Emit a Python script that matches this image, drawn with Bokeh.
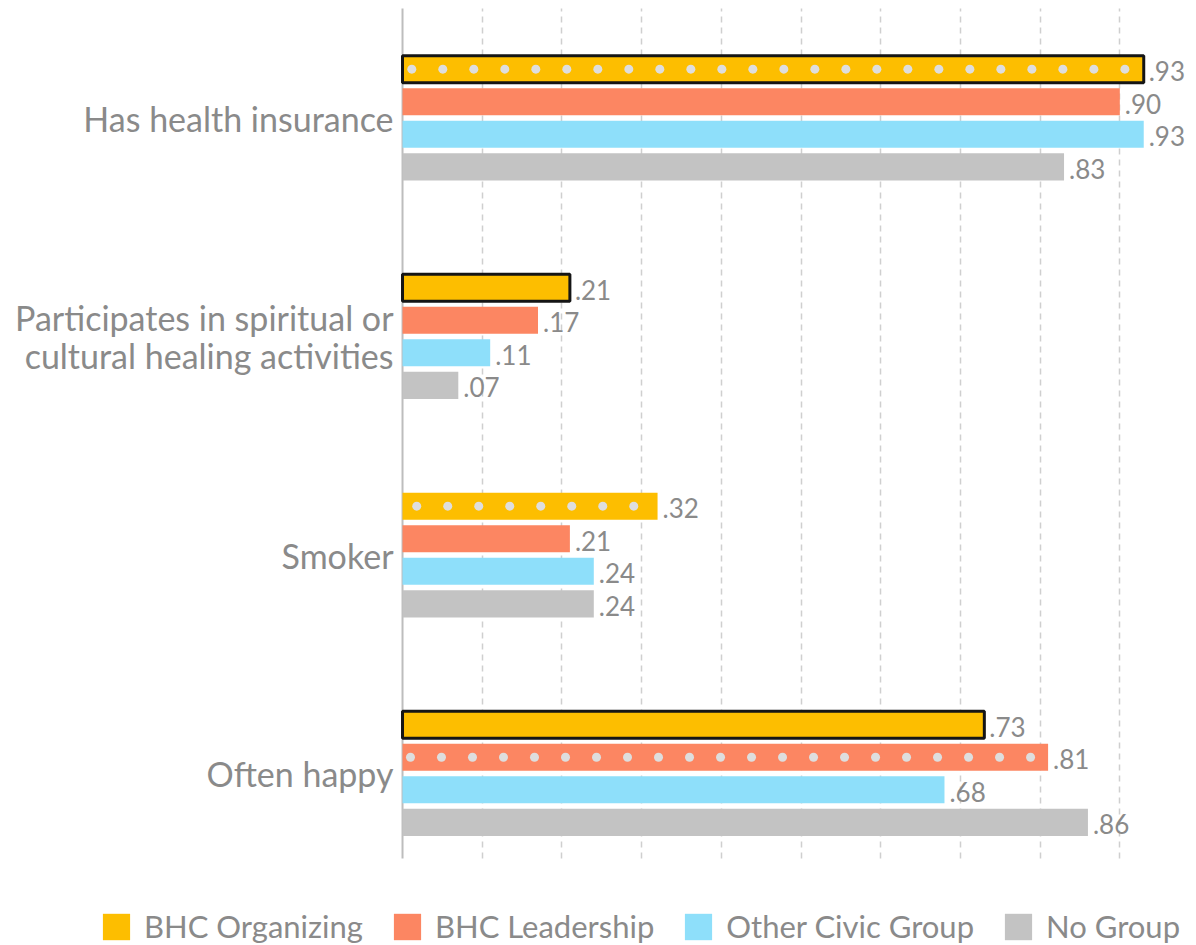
import numpy as np
from bokeh.plotting import figure
from bokeh.models import Range1d, FixedTicker, Legend, LegendItem, ColumnDataSource, Grid
from bokeh.core.properties import value
from bokeh.embed import file_html
from bokeh.resources import INLINE

# ---- data ----
categories = ["Has health insurance",
              "Participates in spiritual or\ncultural healing activities",
              "Smoker",
              "Often happy"]
series_names = ["BHC Organizing", "BHC Leadership", "Other Civic Group", "No Group"]
bhc_organizing = [0.93, 0.21, 0.32, 0.73]
bhc_leadership = [0.90, 0.17, 0.21, 0.81]
other_civic_group = [0.93, 0.11, 0.24, 0.68]
no_group = [0.83, 0.07, 0.24, 0.86]
# highlight flags (black outline / dotted fill) per series, per category
outlined_organizing = [True, True, False, True]
dotted_organizing = [True, False, True, False]
dotted_leadership = [False, False, False, True]
grid_ticks = [0.1, 0.2, 0.3, 0.4, 0.5, 0.6, 0.7, 0.8, 0.9]

series_values = [bhc_organizing, bhc_leadership, other_civic_group, no_group]
series_colors = ["#FDBE00", "#FC8662", "#8EDFFA", "#C3C3C3"]
series_outlined = [outlined_organizing, [False] * 4, [False] * 4, [False] * 4]
series_dotted = [dotted_organizing, dotted_leadership, [False] * 4, [False] * 4]

TEXT_COLOR = "#8a8a8a"
FONT = "Lato"

# vertical layout (one group per unit)
Y_TOP = -0.5378
Y_BOTTOM = 3.7871
LINE_TOP = -0.5012
LINE_BOTTOM = 3.389

p = figure(width=1196, height=945,
           x_range=Range1d(-0.5044, 0.9962), y_range=Range1d(Y_BOTTOM, Y_TOP),
           x_axis_location=None, y_axis_location=None,
           toolbar_location=None, output_backend="svg",
           min_border_left=0, min_border_right=0, min_border_top=0, min_border_bottom=0,
           outline_line_color=None, background_fill_color="white")

p.ygrid.visible = False
p.xgrid.visible = False
if "cross_bounds" in Grid.properties():
    g = Grid(dimension=0, ticker=FixedTicker(ticks=grid_ticks),
             grid_line_color="#cfcfcf", grid_line_width=1.5, grid_line_dash="6 5",
             cross_bounds=(LINE_BOTTOM, LINE_TOP))
    p.add_layout(g, "center")
else:
    p.segment(x0=grid_ticks, y0=[LINE_BOTTOM] * len(grid_ticks),
              x1=grid_ticks, y1=[LINE_TOP] * len(grid_ticks),
              line_color="#cfcfcf", line_width=1.5, line_dash="6 5")

# vertical axis line
p.segment(x0=[0], y0=[LINE_BOTTOM], x1=[0], y1=[LINE_TOP], line_color="#bdbdbd", line_width=2)

bar_pitch = 0.149
bar_height = 0.124
offsets = [-1.5, -0.5, 0.5, 1.5]
group_y = np.arange(len(categories))

legend_items = []
dot_x, dot_y = [], []
out_y, out_r = [], []
for vals, col, off, outl, dots, name in zip(series_values, series_colors, offsets,
                                            series_outlined, series_dotted, series_names):
    ys = group_y + off * bar_pitch
    src = ColumnDataSource(dict(y=ys, right=vals,
                                lab=[("%.2f" % v).lstrip("0") for v in vals]))
    r = p.hbar(y="y", right="right", left=0, height=bar_height, source=src,
               fill_color=col, line_color=None)
    legend_items.append(LegendItem(label=name, renderers=[r]))
    p.text(x="right", y="y", text="lab", source=src, x_offset=5, y_offset=2,
           text_baseline="middle", text_align="left",
           text_font=value(FONT), text_font_size=value("26px"), text_color=TEXT_COLOR)
    for v, yy, o, d in zip(vals, ys, outl, dots):
        if o:
            out_y.append(yy)
            out_r.append(v)
        if d:
            sp = 0.0389
            n = int((v - 0.03) / sp) + 1
            span = (n - 1) * sp
            start = (v - span) / 2.0 - 0.006
            xs = start + sp * np.arange(n)
            dot_x.extend(xs.tolist())
            dot_y.extend([yy] * n)

p.hbar(y=out_y, right=out_r, left=0, height=bar_height, fill_color=None,
       line_color="#151515", line_width=3)
p.scatter(x=dot_x, y=dot_y, size=9, fill_color="#dedede", line_color=None)

# category labels
p.text(x=[0] * len(categories), y=group_y, text=categories, x_offset=-9,
       text_align="right", text_baseline="middle", text_line_height=0.93,
       text_font=value(FONT), text_font_size=value("34px"), text_color=TEXT_COLOR)

legend = Legend(items=legend_items, orientation="horizontal", location=(99, 0),
                glyph_width=34, glyph_height=33, label_standoff=11, spacing=27,
                label_text_font=FONT, label_text_font_size="31px", label_text_color=TEXT_COLOR,
                border_line_color=None, background_fill_alpha=0, margin=0, padding=0)
p.add_layout(legend, "center")

open("out.html", "w").write(file_html(p, INLINE))
